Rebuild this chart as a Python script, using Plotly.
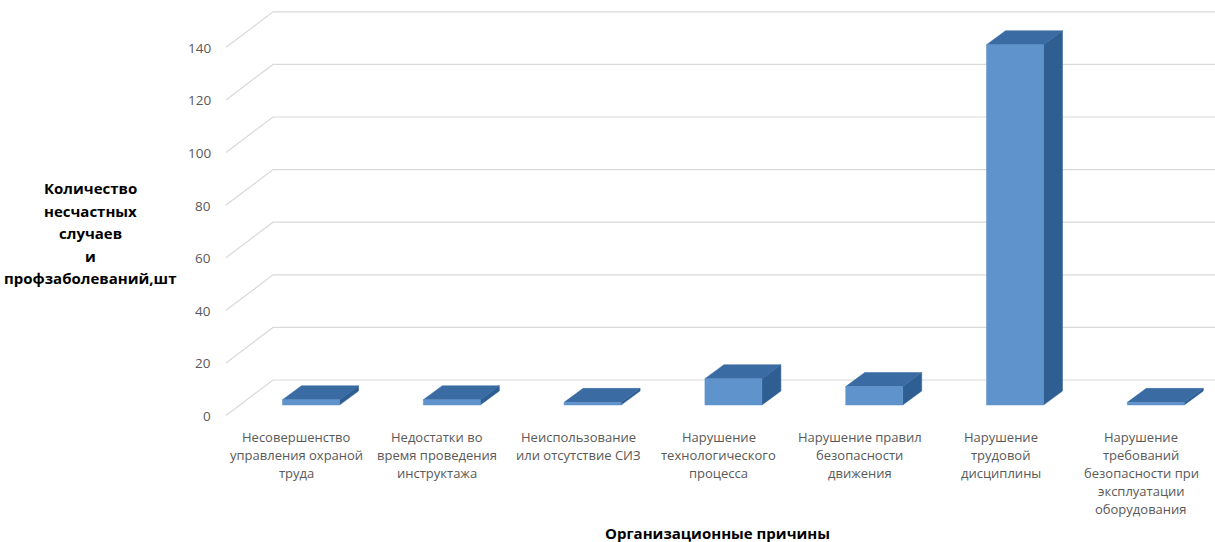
import plotly.graph_objects as go

# ---------------- data ----------------
categories = [
    "Несовершенство\nуправления охраной\nтруда",
    "Недостатки во\nвремя проведения\nинструктажа",
    "Неиспользование\nили отсутствие СИЗ",
    "Нарушение\nтехнологического\nпроцесса",
    "Нарушение правил\nбезопасности\nдвижения",
    "Нарушение\nтрудовой\nдисциплины",
    "Нарушение\nтребований\nбезопасности при\nэксплуатации\nоборудования",
]
values = [2, 2, 1, 10, 7, 137, 1]
y_ticks = [0, 20, 40, 60, 80, 100, 120, 140]
y_title_lines = ["Количество", "несчастных", "случаев", "и", "профзаболеваний,шт"]
x_title = "Организационные причины"

# ---------------- geometry (pixel calibration) ----------------
W, H = 1215, 542
X0PX, XS = 311.0, 140.8     # pixel of first category, px per category
Y0PX, YS = 405.0, 2.63      # pixel of value 0 (bar front), px per unit


def xd(px):
    return (px - X0PX) / XS


def yd(py):
    return (Y0PX - py) / YS


BAR_W = 57 / XS
DEP_X = 19 / XS
DEP_Y = 14 / YS
BACK_X0 = xd(273)
WALL_DX = xd(226)
BACK_DY = 25 / YS
FRONT_DY = -10.5 / YS

FRONT_C = "#5e93cc"
TOP_C = "#3a6ba3"
SIDE_C = "#2f5e92"
GRID_C = "#d9d9d9"
TXT_C = "#595959"
FONT = "Open Sans"

fig = go.Figure()

# gridlines: back wall + left wall diagonals
for v in y_ticks:
    fig.add_trace(go.Scatter(
        x=[WALL_DX, BACK_X0, xd(W)],
        y=[v + FRONT_DY, v + BACK_DY, v + BACK_DY],
        mode="lines", line=dict(color=GRID_C, width=1.2),
        hoverinfo="skip", showlegend=False))

# bars: side, top and front faces
for i, v in enumerate(values):
    l, r = i - BAR_W / 2, i + BAR_W / 2
    fig.add_trace(go.Scatter(
        x=[r, r + DEP_X, r + DEP_X, r, r],
        y=[0, DEP_Y, v + DEP_Y, v, 0],
        fill="toself", fillcolor=SIDE_C, mode="lines",
        line=dict(color=SIDE_C, width=0.5),
        hoverinfo="skip", showlegend=False))
    fig.add_trace(go.Scatter(
        x=[l, r, r + DEP_X, l + DEP_X, l],
        y=[v, v, v + DEP_Y, v + DEP_Y, v],
        fill="toself", fillcolor=TOP_C, mode="lines",
        line=dict(color=TOP_C, width=0.5),
        hoverinfo="skip", showlegend=False))
    fig.add_trace(go.Scatter(
        x=[l, r, r, l, l],
        y=[0, 0, v, v, 0],
        fill="toself", fillcolor=FRONT_C, mode="lines",
        line=dict(color=FRONT_C, width=0.5),
        hoverinfo="skip", showlegend=False))

annotations = []
# y tick labels
for v in y_ticks:
    annotations.append(dict(
        x=xd(213), y=v - 4.2, xref="x", yref="y", text=str(v),
        showarrow=False, xanchor="right", yanchor="middle",
        font=dict(family=FONT, size=13.5, color=TXT_C)))

# category labels
for i, lab in enumerate(categories):
    for j, line in enumerate(lab.split("\n")):
        annotations.append(dict(
            x=i - 14.5 / XS, y=yd(437 + 18 * j), xref="x", yref="y",
            text=line, showarrow=False, xanchor="center", yanchor="middle",
            font=dict(family=FONT, size=13, color=TXT_C)))

# y title
for j, line in enumerate(y_title_lines):
    annotations.append(dict(
        x=xd(90), y=yd(188 + 22.5 * j), xref="x", yref="y",
        text="<b>" + line + "</b>", showarrow=False,
        xanchor="center", yanchor="middle",
        font=dict(family=FONT, size=15, color="#000000")))

# x title
annotations.append(dict(
    x=xd(717), y=yd(533), xref="x", yref="y",
    text="<b>" + x_title + "</b>", showarrow=False,
    xanchor="center", yanchor="middle",
    font=dict(family=FONT, size=15, color="#000000")))

fig.update_layout(
    width=W, height=H,
    margin=dict(l=0, r=0, t=0, b=0),
    paper_bgcolor="white", plot_bgcolor="white",
    xaxis=dict(range=[xd(0), xd(W)], visible=False, fixedrange=True),
    yaxis=dict(range=[yd(H), yd(0)], visible=False, fixedrange=True),
    annotations=annotations,
    showlegend=False,
)

fig.write_html("out.html")
